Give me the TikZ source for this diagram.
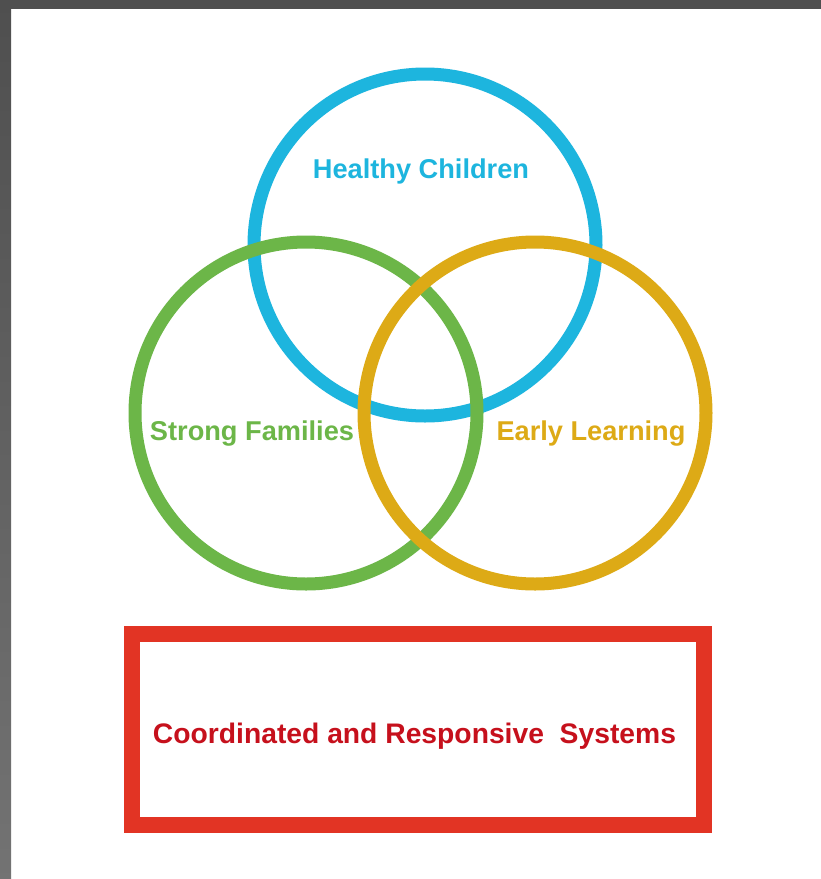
\documentclass[tikz,border=0pt]{standalone}
\usepackage{fontspec}
\setmainfont{Liberation Sans}
\usepackage{xcolor}
\usetikzlibrary{
    positioning
}
\definecolor{hcblue}{RGB}{29,181,222}
\definecolor{sfgreen}{RGB}{108,182,72}
\definecolor{elgold}{RGB}{221,170,22}
\definecolor{csred}{RGB}{226,52,36}
\definecolor{cstext}{RGB}{198,16,28}
\definecolor{frame}{RGB}{79,79,79}

\begin{document}
\begin{tikzpicture}[x=0.75pt, y=-0.75pt,
    ring/.style={circle, draw=#1, line width=9.75pt, minimum size=256.5pt, inner sep=0pt},
    ringtext/.style={text=#1, font=\fontsize{20.4}{24}\selectfont\bfseries, inner sep=0pt}]
                        % page and dark frame
                        \fill[white] (0, 0) rectangle (821, 879);
                        \fill[frame] (0, 0) rectangle (821, 9);
                        \shade[top color=frame, bottom color=black!55] (0, 0) rectangle (11, 879);
                        \useasboundingbox (0, 0) rectangle (821, 879);
                        % the three rings
                        \node[ring=hcblue] (healthy) at (425, 245) {};
                        \node[ring=sfgreen] (strong) at (306, 413) {};
                        \node[ring=elgold] (early) at (535, 413) {};
                        \node[ringtext=hcblue] (healthytext) at (421, 171) {Healthy Children};
                        \node[ringtext=sfgreen] (strongtext) at (252, 434) {Strong Families};
                        \node[ringtext=elgold] (earlytext) at (591, 434) {Early Learning};
                        % systems box
                        \node[draw=csred, line width=12pt, minimum width=429pt, minimum height=143.25pt,
                              inner sep=0pt] (systems) at (418, 729.5) {};
                        \node[ringtext=cstext, font=\fontsize{21.2}{25}\selectfont\bfseries] (systemstext)
                            at (414.5, 736) {Coordinated and Responsive\ \ Systems};
                    \end{tikzpicture}
\end{document}
